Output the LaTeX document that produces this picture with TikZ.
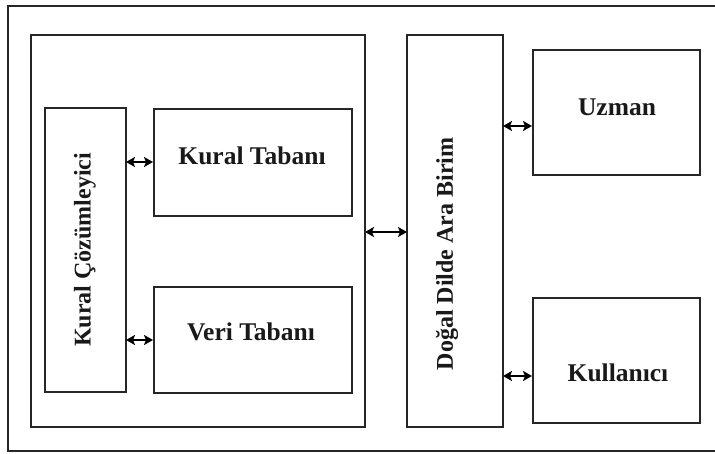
\documentclass[tikz,border=0pt]{standalone}
\usepackage{fontspec}
\setmainfont{Liberation Serif}
\usetikzlibrary{arrows.meta}
\begin{document}
\begin{tikzpicture}[x=1pt,y=-1pt,
  frame/.style={draw=black!85,line width=1.6pt},
  box/.style={frame,rectangle},
  lbl/.style={font=\fontsize{25.5}{30}\selectfont\bfseries,text=black!90},
  vlbl/.style={font=\fontsize{24}{28}\selectfont\bfseries,text=black!90,rotate=90},
  link/.style={line width=2.2pt,{Stealth[length=9pt,width=10pt,inset=2pt]}-{Stealth[length=9pt,width=10pt,inset=2pt]}}]
\useasboundingbox (0,0) rectangle (715,453);
% outer frame (open on the right)
\draw[frame] (715,6) -- (8,6) -- (8,451) -- (715,451);
% boxes
\draw[frame] (31,35) rectangle (365,427);
\coordinate (bigR) at (365,232);
\draw[frame] (45,108) rectangle (126,392);
\coordinate (kcR1) at (126,162);
\coordinate (kcR2) at (126,340);
\node[box,minimum width=198pt,minimum height=107pt,anchor=north west] (kt) at (153,108) {};
\node[box,minimum width=198pt,minimum height=106pt,anchor=north west] (vt) at (153,286) {};
\draw[frame] (407,35) rectangle (503,427);
\coordinate (ddL) at (407,232);
\coordinate (ddR1) at (503,126);
\coordinate (ddR2) at (503,376);
\node[box,minimum width=167pt,minimum height=125pt,anchor=north west] (uz) at (532,49) {};
\node[box,minimum width=167pt,minimum height=125pt,anchor=north west] (ku) at (532,297) {};
% labels
\node[lbl] (ktl) at (252,156) {Kural Tabanı};
\node[lbl] (vtl) at (251,332) {Veri Tabanı};
\node[lbl] (uzl) at (617,107) {Uzman};
\node[lbl] (kul) at (618,373) {Kullanıcı};
\node[vlbl] (kcl) at (85,250) {Kural Çözümleyici};
\node[vlbl] (ddl) at (447,254) {Doğal Dilde Ara Birim};
% connectors
\draw[link] (kcR1) -- (kt.west |- kcR1);
\draw[link] (kcR2) -- (vt.west |- kcR2);
\draw[link] (bigR) -- (ddL);
\draw[link] (ddR1) -- (uz.west |- ddR1);
\draw[link] (ddR2) -- (ku.west |- ddR2);
\end{tikzpicture}
\end{document}
